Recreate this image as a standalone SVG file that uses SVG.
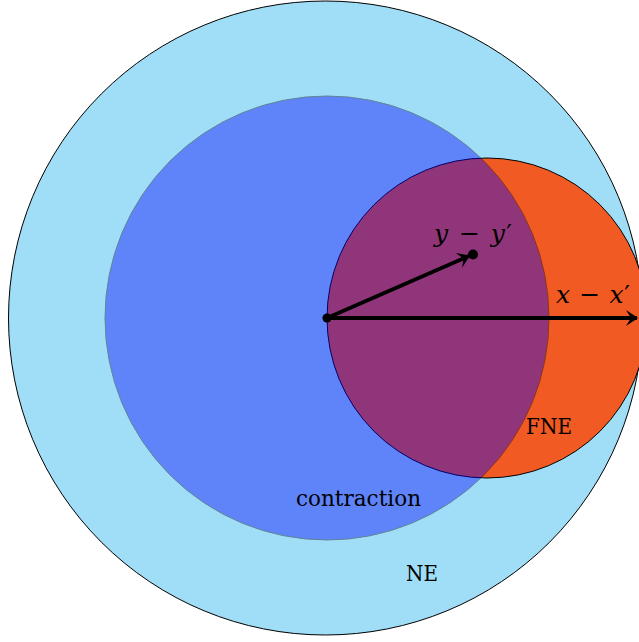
<svg xmlns="http://www.w3.org/2000/svg" width="639" height="642" viewBox="0 0 639 642">
<style>
.lbl{font-family:"DejaVu Serif","Liberation Serif",serif;font-size:23px;fill:#000}
.math{font-family:"DejaVu Serif","Liberation Serif",serif;font-size:25px;fill:#000}
.it{font-style:italic}
.arrow{stroke:#000;stroke-width:3.8;fill:none}
</style>
<defs>
<marker id="head" markerUnits="userSpaceOnUse" viewBox="-12 -9 14 18" markerWidth="14" markerHeight="18" refX="0" refY="0" orient="auto">
<path d="M1,0 L-11,-8 L-6,0 L-11,8 Z" fill="#000"/>
</marker>
</defs>
<g id="NE"><circle cx="325.5" cy="318" r="317" fill="#a0def7" stroke="#000" stroke-width="1"/></g>
<g id="FNE"><circle cx="487" cy="318" r="160" fill="#f15a22" stroke="#000" stroke-width="1"/></g>
<g id="contraction"><circle cx="327" cy="318" r="222" fill="#0000ff" stroke="#000" stroke-width="1" opacity="0.4"/></g>
<g id="connectors">
<line class="arrow" x1="327" y1="318" x2="637" y2="318" marker-end="url(#head)"/>
<line class="arrow" x1="327" y1="318" x2="469" y2="256" marker-end="url(#head)"/>
<circle cx="327" cy="318" r="4.6" fill="#000"/>
<circle cx="473" cy="254.5" r="5" fill="#000"/>
</g>
<g id="labels">
<text class="math" x="434" y="242" textLength="78" lengthAdjust="spacing"><tspan class="it">y</tspan> − <tspan class="it">y</tspan>′</text>
<text class="math" x="556" y="303" textLength="74" lengthAdjust="spacing"><tspan class="it">x</tspan> − <tspan class="it">x</tspan>′</text>
<text class="lbl" x="526" y="434" textLength="46" lengthAdjust="spacingAndGlyphs">FNE</text>
<text class="lbl" x="296" y="506" font-size="24" textLength="125" lengthAdjust="spacingAndGlyphs">contraction</text>
<text class="lbl" x="406" y="581" textLength="32" lengthAdjust="spacingAndGlyphs">NE</text>
</g>
</svg>
